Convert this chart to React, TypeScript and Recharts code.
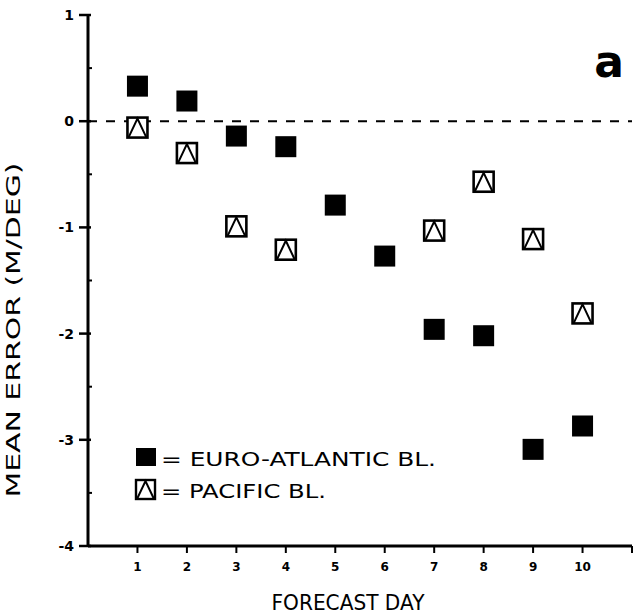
import React from 'react';
import { ScatterChart, Scatter, XAxis, YAxis, ReferenceLine } from 'recharts';

// forecast day / mean error (m/deg)
const days = [1, 2, 3, 4, 5, 6, 7, 8, 9, 10];
const euroAtlantic = [0.33, 0.19, -0.14, -0.24, -0.79, -1.27, -1.96, -2.02, -3.09, -2.87];
const pacificDays = [1, 2, 3, 4, 7, 8, 9, 10];
const pacific = [-0.06, -0.3, -0.99, -1.21, -1.03, -0.57, -1.11, -1.81];

const xTicks = [1, 2, 3, 4, 5, 6, 7, 8, 9, 10, 11];
const yTicks = [-4, -3.5, -3, -2.5, -2, -1.5, -1, -0.5, 0, 0.5, 1];

const euroData = days.map((d, i) => ({ x: d, y: euroAtlantic[i] }));
const pacificData = pacificDays.map((d, i) => ({ x: d, y: pacific[i] }));

const FONT = '"DejaVu Sans", sans-serif';
const INK = '#000';

const FilledSquare = (props: any) => {
  const { cx, cy } = props;
  return <rect x={cx - 10.5} y={cy - 10.5} width={21} height={21} fill={INK} />;
};

const TriangleBox = (props: any) => {
  const { cx, cy } = props;
  const h = 10;
  return (
    <g>
      <rect x={cx - h} y={cy - h} width={2 * h} height={2 * h} fill="#fff" stroke={INK} strokeWidth={2.6} />
      <path
        d={`M${cx - h + 1},${cy + h} L${cx},${cy - h + 1} L${cx + h - 1},${cy + h}`}
        fill="none"
        stroke={INK}
        strokeWidth={2}
      />
    </g>
  );
};

const YTick = (props: any) => {
  const { x, y, payload } = props;
  const v = payload.value;
  if (!Number.isInteger(v)) {
    return <line x1={x} x2={x + 4} y1={y} y2={y} stroke={INK} strokeWidth={2} />;
  }
  return (
    <g>
      <line x1={x - 9} x2={x + 3} y1={y} y2={y} stroke={INK} strokeWidth={2.5} />
      <text x={x - 14} y={y + 5} textAnchor="end" fontSize={14} fontWeight="bold" fontFamily={FONT} fill={INK}>
        {v}
      </text>
    </g>
  );
};

const XTick = (props: any) => {
  const { x, y, payload } = props;
  const v = payload.value;
  return (
    <g>
      <line x1={x} x2={x} y1={y} y2={y + 7} stroke={INK} strokeWidth={2} />
      {v <= 10 && (
        <text x={x} y={y + 25} textAnchor="middle" fontSize={12} fontWeight="bold" fontFamily={FONT} fill={INK}>
          {v}
        </text>
      )}
    </g>
  );
};

export default function App() {
  return (
    <div style={{ position: 'absolute', left: 0, top: 0, background: '#fff' }}>
      <ScatterChart width={640} height={614} margin={{ top: 15, right: 8, bottom: 0, left: 0 }}>
        <XAxis
          dataKey="x"
          type="number"
          domain={[0, 11]}
          ticks={xTicks}
          interval={0}
          height={68}
          tickSize={0}
          tickMargin={0}
          tickLine={false}
          tick={<XTick />}
          axisLine={{ stroke: INK, strokeWidth: 3 }}
          label={{
            content: (p: any) => (
              <text
                x={p.viewBox.x + p.viewBox.width / 2 - 12}
                y={610}
                textAnchor="middle"
                fontSize={22}
                fontFamily={FONT}
                fill={INK}
                textLength={153}
                lengthAdjust="spacingAndGlyphs"
              >
                FORECAST DAY
              </text>
            ),
          }}
        />
        <XAxis
          xAxisId="top"
          orientation="top"
          type="number"
          domain={[0, 11]}
          height={0}
          tick={false}
          tickLine={false}
          axisLine={{ stroke: INK, strokeWidth: 2.5 }}
        />
        <YAxis
          dataKey="y"
          type="number"
          domain={[-4, 1]}
          ticks={yTicks}
          interval={0}
          width={88}
          tickSize={0}
          tickMargin={0}
          tickLine={false}
          tick={<YTick />}
          axisLine={{ stroke: INK, strokeWidth: 3 }}
          label={{
            content: () => (
              <text
                x={0}
                y={0}
                transform="translate(20,330) rotate(-90)"
                textAnchor="middle"
                fontSize={19}
                fontFamily={FONT}
                fill={INK}
                textLength={335}
                lengthAdjust="spacingAndGlyphs"
              >
                MEAN ERROR (M/DEG)
              </text>
            ),
          }}
        />
        <YAxis
          yAxisId="right"
          orientation="right"
          type="number"
          domain={[-4, 1]}
          width={0}
          tick={false}
          tickLine={false}
          axisLine={{ stroke: INK, strokeWidth: 3 }}
        />
        <ReferenceLine y={0} stroke={INK} strokeWidth={2} strokeDasharray="9 9" />
        <Scatter data={euroData} shape={<FilledSquare />} isAnimationActive={false} />
        <Scatter data={pacificData} shape={<TriangleBox />} isAnimationActive={false} />
        <text x={609} y={77} textAnchor="middle" fontSize={44} fontWeight="bold" fontFamily={FONT} fill={INK}>
          a
        </text>
        <g>
          <rect x={136} y={448} width={20} height={18} fill={INK} />
          <text x={161} y={466} fontSize={20} fontFamily={FONT} fill={INK} textLength={275} lengthAdjust="spacingAndGlyphs">
            = EURO-ATLANTIC BL.
          </text>
          <rect x={136} y={480} width={19} height={19} fill="#fff" stroke={INK} strokeWidth={2.4} />
          <path d="M137,499 L145.5,481 L154,499" fill="none" stroke={INK} strokeWidth={2} />
          <text x={161} y={498} fontSize={20} fontFamily={FONT} fill={INK} textLength={165} lengthAdjust="spacingAndGlyphs">
            = PACIFIC BL.
          </text>
        </g>
      </ScatterChart>
    </div>
  );
}
